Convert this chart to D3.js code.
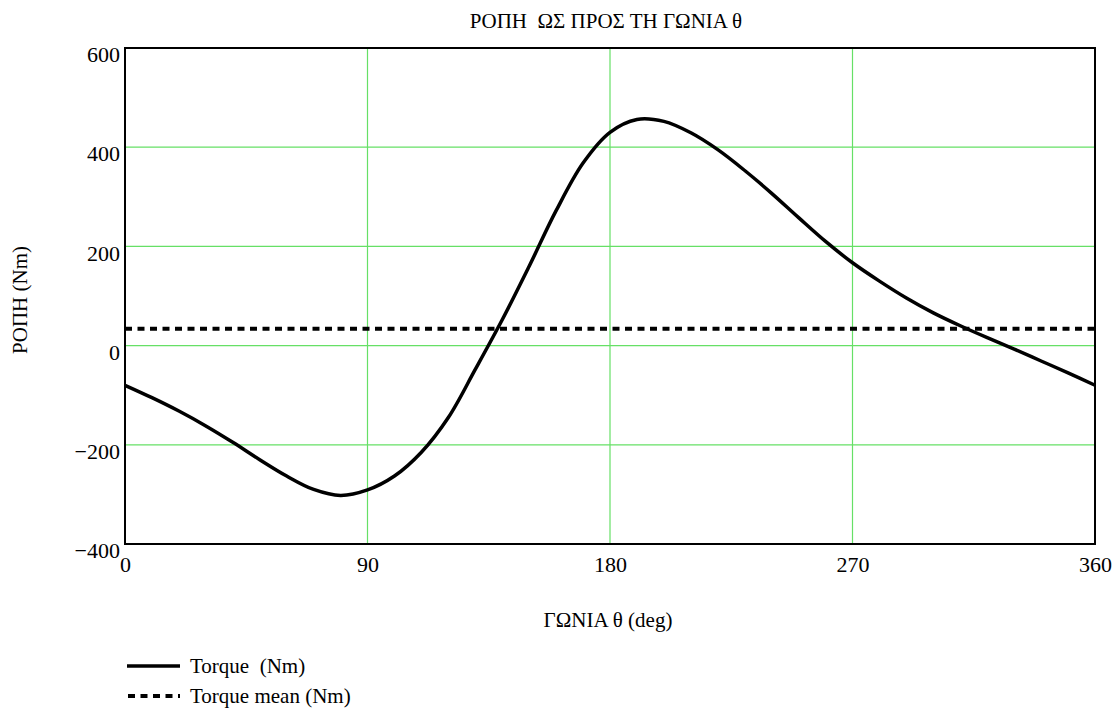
<!DOCTYPE html>
<html>
<head>
<meta charset="utf-8">
<script src="https://cdn.jsdelivr.net/npm/d3@7"></script>
<style>
  html, body { margin: 0; padding: 0; background: #fff; }
  svg { display: block; }
  text { font-family: "Liberation Serif", "Times New Roman", serif; fill: #000; white-space: pre; }
</style>
</head>
<body>
<svg id="chart" width="1120" height="713"></svg>
<script>
// Crank angle (deg) and instantaneous torque (Nm)
const angles = [0, 10, 20, 30, 40, 50, 60, 70, 80, 90, 100, 110, 120, 130, 140, 150, 160, 170, 180,
                190, 200, 210, 220, 230, 240, 250, 260, 270, 280, 290, 300, 310, 320, 330, 340, 350, 360];
const torque = [-80, -105, -132, -162, -195, -230, -263, -290, -302, -291, -263, -215, -145, -48, 52, 160, 272, 368, 430,
                456, 452, 429, 395, 353, 307, 258, 210, 167, 130, 96, 66, 40, 16, -7, -31, -55, -80];
const torqueMean = 34;

const xTicks = [0, 90, 180, 270, 360];
const yTicks = [-400, -200, 0, 200, 400, 600];

const titleText = "ΡΟΠΗ  ΩΣ ΠΡΟΣ ΤΗ ΓΩΝΙΑ θ";
const xTitle = "ΓΩΝΙΑ θ (deg)";
const yTitle = "ΡΟΠΗ (Nm)";
const legendLabels = ["Torque  (Nm)", "Torque mean (Nm)"];

const svg = d3.select("#chart");
const plot = { left: 125, right: 1095, top: 48, bottom: 544 };

const x = d3.scaleLinear().domain([0, 360]).range([plot.left, plot.right]);
const y = d3.scaleLinear().domain([-400, 600]).range([plot.bottom, plot.top]);

// grid
const grid = svg.append("g");
grid.selectAll("line.v").data(xTicks.slice(1, -1)).join("line")
  .attr("x1", d => x(d)).attr("x2", d => x(d))
  .attr("y1", plot.top).attr("y2", plot.bottom)
  .attr("stroke", "#66e066").attr("stroke-width", 1.2);
grid.selectAll("line.h").data(yTicks.slice(1, -1)).join("line")
  .attr("x1", plot.left).attr("x2", plot.right)
  .attr("y1", d => y(d)).attr("y2", d => y(d))
  .attr("stroke", "#66e066").attr("stroke-width", 1.2);

// tick labels via d3 axes (axis lines replaced by the frame)
const fmt = d => (d < 0 ? "\u2212" + Math.abs(d) : String(d));
const yAxis = svg.append("g").attr("transform", `translate(${plot.left},0)`)
  .call(d3.axisLeft(y).tickValues(yTicks).tickFormat(fmt).tickSize(0).tickPadding(5));
yAxis.select(".domain").remove();
yAxis.selectAll("text").attr("font-size", 22)
  .attr("font-family", "Liberation Serif").attr("dy", "0.62em");

const xAxis = svg.append("g").attr("transform", `translate(0,${plot.bottom})`)
  .call(d3.axisBottom(x).tickValues(xTicks).tickFormat(fmt).tickSize(0).tickPadding(12));
xAxis.select(".domain").remove();
xAxis.selectAll("text").attr("font-size", 22)
  .attr("font-family", "Liberation Serif");

// frame
svg.append("rect")
  .attr("x", plot.left).attr("y", plot.top)
  .attr("width", plot.right - plot.left).attr("height", plot.bottom - plot.top)
  .attr("fill", "none").attr("stroke", "#000").attr("stroke-width", 2);

// series
const pts = angles.map((a, i) => [a, torque[i]]);
const line = d3.line().x(d => x(d[0])).y(d => y(d[1])).curve(d3.curveCatmullRom.alpha(0.5));

svg.append("path").datum([[0, torqueMean], [360, torqueMean]])
  .attr("d", d3.line().x(d => x(d[0])).y(d => y(d[1])))
  .attr("fill", "none").attr("stroke", "#000")
  .attr("stroke-width", 4).attr("stroke-dasharray", "7,5.5");

svg.append("path").datum(pts)
  .attr("d", line)
  .attr("fill", "none").attr("stroke", "#000").attr("stroke-width", 3.5)
  .attr("stroke-linejoin", "round");

// titles
svg.append("text").attr("x", 606).attr("y", 28).attr("text-anchor", "middle")
  .attr("font-size", 21).text(titleText);
svg.append("text").attr("x", 608).attr("y", 627).attr("text-anchor", "middle")
  .attr("font-size", 21).text(xTitle);
svg.append("text").attr("transform", "translate(27,300) rotate(-90)")
  .attr("text-anchor", "middle").attr("font-size", 21).text(yTitle);

// legend
const legend = svg.append("g");
const legY = [666, 696];
legend.append("line").attr("x1", 127).attr("x2", 180).attr("y1", legY[0]).attr("y2", legY[0])
  .attr("stroke", "#000").attr("stroke-width", 3.5);
legend.append("line").attr("x1", 128).attr("x2", 180).attr("y1", legY[1]).attr("y2", legY[1])
  .attr("stroke", "#000").attr("stroke-width", 4).attr("stroke-dasharray", "7,5.5");
legend.selectAll("text").data(legendLabels).join("text")
  .attr("x", 190).attr("y", (d, i) => legY[i] + 7)
  .attr("font-size", 21).text(d => d);
</script>
</body>
</html>
